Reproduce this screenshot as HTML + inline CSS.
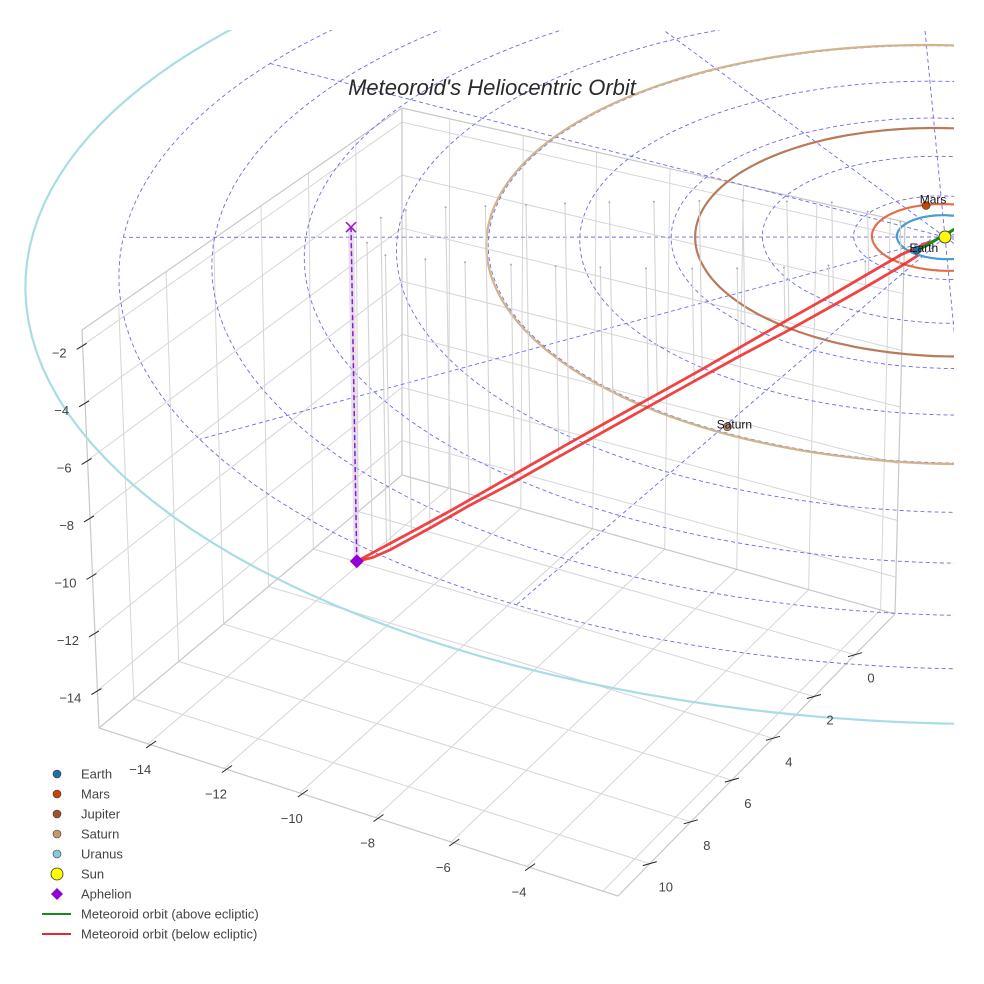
<!DOCTYPE html>
<html><head><meta charset="utf-8"><title>Meteoroid's Heliocentric Orbit</title>
<style>
html,body{margin:0;padding:0;background:#fff;}
svg{display:block;font-family:"Liberation Sans",sans-serif;}
</style></head>
<body>
<svg id="chart" width="984" height="984" viewBox="0 0 984 984" xmlns="http://www.w3.org/2000/svg">
<defs><clipPath id="clipScene"><rect x="0" y="30" width="954" height="954"/></clipPath></defs>
<rect width="984" height="984" fill="#fff"/>
<g id="box"></g>
<g id="scene" clip-path="url(#clipScene)"></g>
<g id="ticks"></g>
<text x="492" y="95" text-anchor="middle" font-size="22" font-style="italic" fill="#2a2a2a">Meteoroid's Heliocentric Orbit</text>
<g id="legend"></g>
</svg>
<script>
// ---- data ----
const xTicks = [-14,-12,-10,-8,-6,-4];
const yTicks = [0,2,4,6,8,10];
const zTicks = [-2,-4,-6,-8,-10,-12,-14];
const xGrid = [-14,-12,-10,-8,-6,-4,-2];
const yGrid = [0,2,4,6,8,10];
const zGrid = [-2,-4,-6,-8,-10,-12,-14];
const xRange = [-15.3,-1.6];
const yRange = [-1.95,11.55];
const zRange = [-15.3,-1.47];

const orbitNames = ['Earth','Mars','Jupiter','Saturn','Uranus'];
const orbitRadii = [1.0,1.52,5.2,9.54,19.0];
const orbitColors = ['#4a9bd4','#e0704c','#b97a5a','#d2b48c','#a8dde5'];
const ringRadii = [1.9,3.8,5.7,7.6,9.5,11.4,13.3,15.2,17.1];
const radialAngles = [0,30,60,90,120,150,180,210,240,270,300,330];

const planetLabels = ['Earth','Mars','Saturn'];
const planetX = [-0.22,-1.03,0.17];
const planetY = [0.82,-1.08,9.27];
const planetFill = ['#1f6fa8','#c8420e','#b98a66'];

// meteoroid orbit (below ecliptic), two legs, AU
const legAX = [-10.89,-10.60,-10.34,-9.70,-9.00,-8.30,-7.63,-6.85,-6.06,-5.25,-4.47,-3.65,-2.81,-1.95,-1.13,-0.20];
const legAY = [5.93,5.25,4.70,4.15,3.69,3.20,2.72,2.20,1.69,1.18,0.69,0.25,-0.19,-0.20,-0.13,0.28];
const legAZ = [-11.62,-11.40,-11.19,-10.55,-9.80,-9.05,-8.34,-7.52,-6.70,-5.85,-5.00,-4.10,-3.19,-2.15,-1.14,-0.05];
const legBX = [-10.89,-10.20,-9.56,-8.75,-7.97,-7.10,-6.27,-5.45,-4.62,-3.80,-3.01,-2.20,-1.46,-0.90,-0.40,-0.20];
const legBY = [5.93,6.35,6.62,6.35,6.05,5.65,5.25,4.82,4.38,3.90,3.42,2.90,2.35,1.80,1.24,0.81];
const legBZ = [-11.62,-10.95,-10.24,-9.35,-8.46,-7.55,-6.62,-5.72,-4.81,-3.92,-3.07,-2.25,-1.47,-0.90,-0.38,-0.18];
// above ecliptic segment
const greenX = [-0.20,0.16,0.46];
const greenY = [0.81,-0.36,-0.86];
const greenZ = [0.0,0.2,0.3];
const aphelion = [-10.89,5.93,-11.62];

// ---- projections ----
function E(x,y,z){
  z = z||0;
  const rx = 42.4*x - 22.7*y, ry = 11.2*x + 18.9*y;
  const f = 1 + 0.0004*ry;
  return [945 + f*rx - 0.5*z, 237 + f*ry - 28.75*z];
}
const C = {
 p000:[402,475], p100:[895,614], p010:[99,728], p110:[618,896],
 p001:[402,108], p101:[905,222], p011:[82,330], p111:[601,498]
};
function B(x,y,z){
  const u=(x-xRange[0])/(xRange[1]-xRange[0]);
  const v=(y-yRange[0])/(yRange[1]-yRange[0]);
  const w=(z-zRange[0])/(zRange[1]-zRange[0]);
  const lerp=(a,b,t)=>[a[0]+(b[0]-a[0])*t,a[1]+(b[1]-a[1])*t];
  const b0=lerp(lerp(C.p000,C.p100,u),lerp(C.p010,C.p110,u),v);
  const b1=lerp(lerp(C.p001,C.p101,u),lerp(C.p011,C.p111,u),v);
  return lerp(b0,b1,w);
}
const NS='http://www.w3.org/2000/svg';
function mk(tag,attrs,parent){const e=document.createElementNS(NS,tag);for(const k in attrs)e.setAttribute(k,attrs[k]);parent.appendChild(e);return e;}
function line(p,q,attrs,parent){return mk('line',Object.assign({x1:p[0].toFixed(1),y1:p[1].toFixed(1),x2:q[0].toFixed(1),y2:q[1].toFixed(1)},attrs),parent);}
function pts(arr){return arr.map(p=>p[0].toFixed(1)+','+p[1].toFixed(1)).join(' ');}

// ---- box ----
const box=document.getElementById('box');
const gs={stroke:'#d6d6d6','stroke-width':1};
const [x0,x1]=xRange,[y0,y1]=yRange,[z0,z1]=zRange;
xGrid.forEach(x=>{
  let l=line(B(x,y0,z0),B(x,y1,z0),gs,box);
  
  
  l=line(B(x,y0,z0),B(x,y0,z1),gs,box);
  
  
});
yGrid.forEach(y=>{
  let l=line(B(x0,y,z0),B(x1,y,z0),gs,box);
  
  
  l=line(B(x0,y,z0),B(x0,y,z1),gs,box);
  
  
});
zGrid.forEach(z=>{
  let l=line(B(x0,y0,z),B(x0,y1,z),gs,box);
  
  
  l=line(B(x0,y0,z),B(x1,y0,z),gs,box);
  
  
});
const es={stroke:'#c8c8c8','stroke-width':1.2};
[[B(x0,y1,z0),B(x1,y1,z0)],[B(x1,y1,z0),B(x1,y0,z0)],[B(x0,y1,z0),B(x0,y1,z1)],
 [B(x0,y0,z0),B(x0,y0,z1)],[B(x0,y0,z1),B(x0,y1,z1)],[B(x0,y0,z1),B(x1,y0,z1)],
 [B(x1,y0,z0),B(x1,y0,z1)],[B(x0,y0,z0),B(x0,y1,z0)],[B(x0,y0,z0),B(x1,y0,z0)]].forEach(s=>{
  const l=line(s[0],s[1],es,box);
  
  
});

// ---- ticks ----
const tk=document.getElementById('ticks');
const ts={stroke:'#222','stroke-width':1};
const tf={'font-size':13,fill:'#444'};
function minus(v){return v<0?'\u2212'+Math.abs(v):String(v);}
xTicks.forEach(x=>{
  const p=B(x,y1,z0);
  const l=line([p[0]-2,p[1]+4],[p[0]+8,p[1]-3],ts,tk);
  
  
  const t=mk('text',Object.assign({x:p[0]-8,y:p[1]+30,'text-anchor':'middle'},tf),tk);
  t.textContent=minus(x);
  
  
});
yTicks.forEach(y=>{
  const p=B(x1,y,z0);
  const l=line([p[0]-7,p[1]+2],[p[0]+7,p[1]-2],ts,tk);
  
  
  const t=mk('text',Object.assign({x:p[0]+16,y:p[1]+28,'text-anchor':'middle'},tf),tk);
  t.textContent=minus(y);
  
  
});
zTicks.forEach(z=>{
  const p=B(x0,y1,z);
  const l=line([p[0]-6,p[1]+4],[p[0]+4,p[1]-2],ts,tk);
  
  
  const t=mk('text',Object.assign({x:p[0]-16,y:p[1]+12,'text-anchor':'end'},tf),tk);
  t.textContent=minus(z);
  
  
});

// ---- scene ----
const sc=document.getElementById('scene');
function ellipsePts(r){const a=[];for(let i=0;i<=180;i++){const t=i/180*2*Math.PI;a.push(E(r*Math.cos(t),r*Math.sin(t)));}return a;}
ringRadii.forEach(r=>{
  const p=mk('polyline',{points:pts(ellipsePts(r)),fill:'none',stroke:'#6b6be6','stroke-width':0.9,'stroke-dasharray':'4,3'},sc);
  
  
});
const rMax=ringRadii[ringRadii.length-1];
radialAngles.forEach(a=>{
  const t=(a-0.7)*Math.PI/180;
  const l=line(E(0,0),E(rMax*Math.cos(t),rMax*Math.sin(t)),{stroke:'#6b6be6','stroke-width':0.9,'stroke-dasharray':'4,3'},sc);
  
  
});
orbitRadii.forEach((r,i)=>{
  const p=mk('polyline',{points:pts(ellipsePts(r)),fill:'none',stroke:orbitColors[i],'stroke-width':2.2},sc);
  
  
});
// drop lines
[[legAX,legAY,legAZ],[legBX,legBY,legBZ]].forEach(leg=>{
  leg[0].forEach((x,i)=>{
    const top=E(x,leg[1][i]),bot=E(x,leg[1][i],leg[2][i]);
    const l=line(top,bot,{stroke:'#d4d4d4','stroke-width':1.1},sc);
    
    
    const c=mk('circle',{cx:top[0].toFixed(1),cy:top[1].toFixed(1),r:1,fill:'#aaa'},sc);
    
    
  });
});
// aphelion band + dashed
const apTop=E(aphelion[0],aphelion[1]),apBot=E(aphelion[0],aphelion[1],aphelion[2]);
const band=mk('polygon',{points:pts([[apTop[0]-3,apTop[1]],[apTop[0]+3,apTop[1]],[apBot[0]+3,apBot[1]],[apBot[0]-3,apBot[1]]]),fill:'#d8cce6','fill-opacity':0.6},sc);


const apl=line(apTop,apBot,{stroke:'#8a1cc4','stroke-width':1.5,'stroke-dasharray':'5,3'},sc);


// red orbit legs
[[legAX,legAY,legAZ],[legBX,legBY,legBZ]].forEach(leg=>{
  const p=mk('polyline',{points:pts(leg[0].map((x,i)=>E(x,leg[1][i],leg[2][i]))),fill:'none',stroke:'#ee2a2a','stroke-width':2.8,'stroke-opacity':0.88},sc);
  
  
});
const gp=mk('polyline',{points:pts(greenX.map((x,i)=>E(x,greenY[i],greenZ[i]))),fill:'none',stroke:'#1a8a1a','stroke-width':3},sc);


// aphelion markers
const xm=mk('path',{d:`M${apTop[0]-5},${apTop[1]-5}L${apTop[0]+5},${apTop[1]+5}M${apTop[0]+5},${apTop[1]-5}L${apTop[0]-5},${apTop[1]+5}`,stroke:'#9a1cc8','stroke-width':1.6},sc);


const dm=mk('polygon',{points:pts([[apBot[0],apBot[1]-7],[apBot[0]+7,apBot[1]],[apBot[0],apBot[1]+7],[apBot[0]-7,apBot[1]]]),fill:'#9400d3'},sc);


// planets
planetLabels.forEach((n,i)=>{
  const p=E(planetX[i],planetY[i]);
  const c=mk('circle',{cx:p[0].toFixed(1),cy:p[1].toFixed(1),r:4,fill:planetFill[i],stroke:'#333','stroke-width':0.6},sc);
  
  
  const t=mk('text',{x:(p[0]+7).toFixed(1),y:(n==='Mars'?p[1]-2:p[1]+2).toFixed(1),'font-size':12,fill:'#111','text-anchor':'middle'},sc);
  t.textContent=n;
  
  
});
const sp=E(0,0);
const sun=mk('circle',{cx:sp[0],cy:sp[1],r:6,fill:'#ffff00',stroke:'#444','stroke-width':1},sc);



// ---- legend ----
const lg=document.getElementById('legend');
const legendNames=['Earth','Mars','Jupiter','Saturn','Uranus','Sun','Aphelion','Meteoroid orbit (above ecliptic)','Meteoroid orbit (below ecliptic)'];
const legendColors=['#1f6fa8','#c8420e','#a0522d','#c49a6c','#87c8da','#ffff00','#9400d3','#1a8a1a','#e8282d'];
legendNames.forEach((n,i)=>{
  const y=774+i*20;
  const g=mk('g',{},lg);
  
  
  if(i<5){const c=mk('circle',{cx:57,cy:y,r:4,fill:legendColors[i],stroke:'#333','stroke-width':0.6},g);}
  else if(i===5){const c=mk('circle',{cx:57,cy:y,r:6,fill:legendColors[i],stroke:'#333','stroke-width':0.8},g);}
  else if(i===6){const c=mk('polygon',{points:`57,${y-6} 63,${y} 57,${y+6} 51,${y}`,fill:legendColors[i]},g);}
  else {const c=mk('line',{x1:42,y1:y,x2:71,y2:y,stroke:legendColors[i],'stroke-width':2},g);}
  const t=mk('text',{x:81,y:y+4.5,'font-size':13,fill:'#444'},g);
  t.textContent=n;
  
  
});
</script>
</body></html>
